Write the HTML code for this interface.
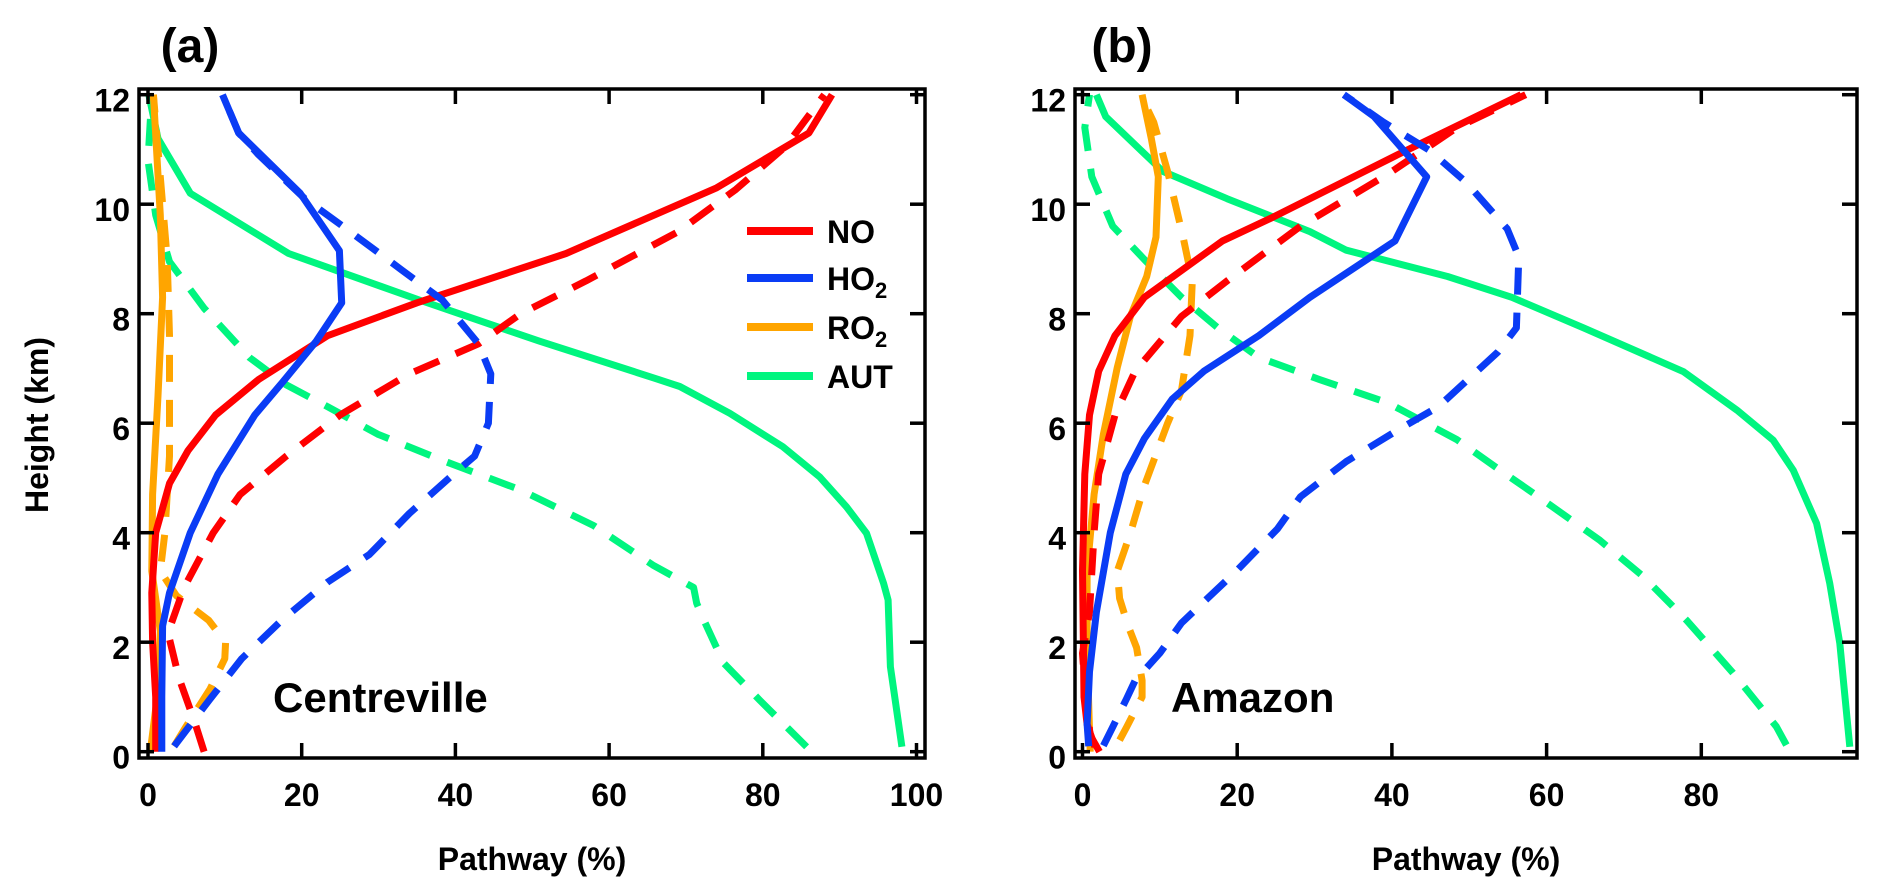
<!DOCTYPE html>
<html><head><meta charset="utf-8"><style>
html,body{margin:0;padding:0;background:#fff;}
svg{display:block;font-family:"Liberation Sans",sans-serif;font-weight:bold;}
</style></head><body>
<svg id="chart" width="1877" height="886" viewBox="0 0 1877 886" xmlns="http://www.w3.org/2000/svg"></svg>
<script>
// ---- Panel (a) Centreville data: heights (km) and pathway (%) ----
const aNoSolidH=[0,1,2,2.9,4,4.9,5.5,6.15,6.8,7.6,8.2,9.1,10.3,11.3,12];
const aNoSolidV=[1,1,0.6,0.5,1,2.8,5.2,8.8,14.4,23.4,35,54.4,74,86,89];
const aNoDashH=[0,0.53,1.36,2.17,3,4,4.7,5.4,6.15,6.9,7.45,8,8.6,9.5,10.27,11.06,12];
const aNoDashV=[7.3,6.1,4,2.6,4.7,8.5,12,18,25,34,43,48.5,57,69,76.5,83,88];
const aHo2SolidH=[0,1,2.3,2.9,4,5.07,6.15,6.73,7.5,8.2,9.15,10.2,11.3,12];
const aHo2SolidV=[1.8,1.8,1.9,2.8,5.5,9.1,13.9,17.4,21.9,25.2,24.9,19.8,11.8,9.7];
const aHo2DashH=[0.1,0.95,1.7,2.4,3.1,3.6,4.35,5.1,5.4,6,6.9,7.45,8.25,8.8,9.55,10.1,10.9,11.3,12];
const aHo2DashV=[3.4,8,12.2,17.4,23.4,28.8,34,40,42.5,44.3,44.6,43,38.3,33,25.8,20.4,14.4,11.8,9.7];
const aRo2SolidH=[0,1,2.2,3.3,4.7,6.5,8.3,9.8,12];
const aRo2SolidV=[0.3,1.2,1.6,0.5,0.6,1.3,1.9,1.6,0.7];
const aRo2DashH=[0.1,0.45,1.15,1.7,2,2.4,2.85,3.3,4,5.4,7.6,9,10.5,12];
const aRo2DashV=[3.4,4.9,8.1,10,10.1,7.9,3.7,1.6,2.2,2.8,2.8,2.5,1.6,0.7];
const aAutSolidH=[0.09,1.55,2.77,3.08,3.99,4.47,5.02,5.57,6.18,6.67,6.8,7.5,8.25,9.1,10.2,11.2,12];
const aAutSolidV=[98.1,96.6,96.3,95.7,93.5,90.9,87.4,82.6,75.7,69.2,66.4,50.9,35.3,18.3,5.5,1.3,0.1];
const aAutDashH=[0.09,0.94,1.62,2.35,2.71,3,3.4,4.13,4.78,5.3,5.8,6.3,6.7,7.2,8.1,8.95,9.8,10.8,12];
const aAutDashV=[85.7,79.6,74.9,72.5,71.4,71,65.8,58,48.5,38.7,29.9,23.4,18,13.2,7.3,2.8,1,0,0.5];
// ---- Panel (b) Amazon data ----
const bNoSolidH=[0.09,0.5,1,3.3,5.07,6.15,6.95,7.6,8.3,9.33,9.76,10.9,12];
const bNoSolidV=[1.6,0.6,0.2,0,0.3,0.9,2.1,4.2,8,18.1,24.6,40.7,56.7];
const bNoDashH=[0,0.3,1,1.8,2.55,4,5.07,6.15,6.95,7.95,8.6,9.6,10.55,11.4,12];
const bNoDashV=[2.2,1,0.4,0,0.9,1.5,2.1,4.2,6.8,12.8,18.7,28.2,39.5,48.4,57.3];
const bHo2SolidH=[0.1,0.5,1.46,2.55,4,5.07,5.72,6.44,6.95,7.6,8.3,9.33,10.5,11.6,12];
const bHo2SolidV=[0.8,0.6,0.9,1.8,3.6,5.6,8,11.6,15.7,22.8,29.4,40.4,44.5,37.7,33.8];
const bHo2DashH=[0.11,0.45,0.97,1.3,1.8,2.35,3.3,4.07,4.66,5.3,5.87,6.3,7.3,7.74,9.04,9.55,10.4,10.99,11.5,12];
const bHo2DashV=[2.7,3.9,5.7,6.8,10,12.8,19.9,25.2,28.2,34.1,40.7,46,53.7,56.1,56.4,54.9,49.6,44.8,38.9,33.8];
const bRo2SolidH=[0,1.8,3.3,4.7,5.8,7.02,7.96,8.68,9.4,10.5,11.2,12];
const bRo2SolidV=[1,0.6,0.6,1.5,2.7,4.5,6.2,8.3,9.5,9.8,8.9,7.7];
const bRo2DashH=[0.21,0.45,1.0,1.3,1.9,2.3,2.8,3.3,4,4.86,6,6.6,7.6,8.6,9.4,10.6,11.5,12];
const bRo2DashV=[4.8,5.7,7.7,7.7,7,5.9,4.8,4.5,6.2,8,11,12.8,13.9,14.2,13,11,9.2,7.5];
const bAutSolidH=[0.09,1.98,3.08,4.17,5.14,5.69,6.24,6.94,7.74,8.3,8.68,9.16,9.5,10.1,10.6,11.6,12];
const bAutSolidV=[99.2,97.9,96.6,94.9,91.9,89.3,84.6,77.7,64.8,55.5,47.2,34.1,29.4,18.7,10.4,3,1.8];
const bAutDashH=[0.12,0.46,1.44,2.4,3.2,3.86,4.72,5.14,5.7,6.37,6.8,7.2,7.74,8.3,8.9,9.6,10.5,11.4,12];
const bAutDashV=[91,89.7,84.1,78.1,72.5,66.9,58.3,54,48.4,39.5,30.6,22.8,17.5,12.8,8.6,3.9,1.2,0.3,0.9];
// ticks
const aXTicks=[0,20,40,60,80,100];
const bXTicks=[0,20,40,60,80];
const yTicks=[0,2,4,6,8,10,12];
const legendNames=["NO","HO","RO","AUT"];

const NS="http://www.w3.org/2000/svg";
const svg=document.getElementById('chart');
function mk(tag,attrs,parent){const e=document.createElementNS(NS,tag);for(const k in attrs)e.setAttribute(k,attrs[k]);(parent||svg).appendChild(e);return e;}
const yScale=km=>751.7-km*54.75;
const COL={no:'#ff0000',ho2:'#0a3cf5',ro2:'#ffa500',aut:'#00f57f'};

function panel(id,x0,pxPer,left,right,xticks,series,title,titleX,site,siteX){
  const g=mk('g',{});
  
  
  const xs=v=>x0+v*pxPer;
  const top=89,bot=758;
  series.forEach(s=>{
    const pts=s.h.map((h,i)=>xs(s.v[i]).toFixed(1)+','+yScale(h).toFixed(1)).join(' ');
    const p=mk('polyline',{points:pts,fill:'none',stroke:s.c,'stroke-width':7,'stroke-linejoin':'round','stroke-dasharray':s.d?'27 18':'none'},g);
    
    
  });
  const fr=mk('rect',{x:left,y:top,width:right-left,height:bot-top,fill:'none',stroke:'#000','stroke-width':3.5},g);
  
  
  xticks.forEach(t=>{
    const x=xs(t);
    mk('line',{x1:x,y1:bot,x2:x,y2:bot-15,stroke:'#000','stroke-width':3.5},g);
    mk('line',{x1:x,y1:top,x2:x,y2:top+15,stroke:'#000','stroke-width':3.5},g);
    const tl=mk('text',{x:x,y:806,'text-anchor':'middle','font-size':32},g);
    tl.textContent=t;
    
    
  });
  yTicks.forEach(t=>{
    const y=yScale(t);
    mk('line',{x1:left,y1:y,x2:left+15,y2:y,stroke:'#000','stroke-width':3.5},g);
    mk('line',{x1:right,y1:y,x2:right-15,y2:y,stroke:'#000','stroke-width':3.5},g);
    const tl=mk('text',{x:left-9,y:y+17,'text-anchor':'end','font-size':32},g);
    tl.textContent=t;
    
    
  });
  const xl=mk('text',{x:(left+right)/2,y:870,'text-anchor':'middle','font-size':32},g);
  xl.textContent='Pathway (%)';
  
  
  const tt=mk('text',{x:titleX,y:62,'text-anchor':'middle','font-size':48},g);
  tt.textContent=title;
  
  
  const st=mk('text',{x:siteX,y:712,'font-size':42},g);
  st.textContent=site;
  
  
}
function S(n,h,v,c,d){return {n:n,h:h,v:v,c:c,d:d};}
panel('panel-a-centreville',148,7.685,139,925,aXTicks,[
  S('aut-dashed',aAutDashH,aAutDashV,COL.aut,1),S('aut-solid',aAutSolidH,aAutSolidV,COL.aut,0),
  S('ro2-dashed',aRo2DashH,aRo2DashV,COL.ro2,1),S('ro2-solid',aRo2SolidH,aRo2SolidV,COL.ro2,0),
  S('no-dashed',aNoDashH,aNoDashV,COL.no,1),S('no-solid',aNoSolidH,aNoSolidV,COL.no,0),
  S('ho2-dashed',aHo2DashH,aHo2DashV,COL.ho2,1),S('ho2-solid',aHo2SolidH,aHo2SolidV,COL.ho2,0)
],'(a)',190,'Centreville',273);
panel('panel-b-amazon',1082.5,7.735,1075,1857,bXTicks,[
  S('aut-dashed',bAutDashH,bAutDashV,COL.aut,1),S('aut-solid',bAutSolidH,bAutSolidV,COL.aut,0),
  S('ro2-dashed',bRo2DashH,bRo2DashV,COL.ro2,1),S('ro2-solid',bRo2SolidH,bRo2SolidV,COL.ro2,0),
  S('no-dashed',bNoDashH,bNoDashV,COL.no,1),S('no-solid',bNoSolidH,bNoSolidV,COL.no,0),
  S('ho2-dashed',bHo2DashH,bHo2DashV,COL.ho2,1),S('ho2-solid',bHo2SolidH,bHo2SolidV,COL.ho2,0)
],'(b)',1122,'Amazon',1171);

const yt=mk('text',{x:0,y:0,'text-anchor':'middle','font-size':32,transform:'translate(48,425) rotate(-90)'});
yt.textContent='Height (km)';



const legCols=[COL.no,COL.ho2,COL.ro2,COL.aut];
const legY=[231,278,327,376];
const lg=mk('g',{});


legendNames.forEach((n,i)=>{
  const ln=mk('line',{x1:747,y1:legY[i],x2:813,y2:legY[i],stroke:legCols[i],'stroke-width':8},lg);
  
  
  const t=mk('text',{x:827,y:legY[i]+12,'font-size':32},lg);
  
  
  t.textContent=n;
  if(i===1||i===2){const sub=mk('tspan',{'font-size':22,dy:8},t);sub.textContent='2';}
});
</script>
</body></html>
